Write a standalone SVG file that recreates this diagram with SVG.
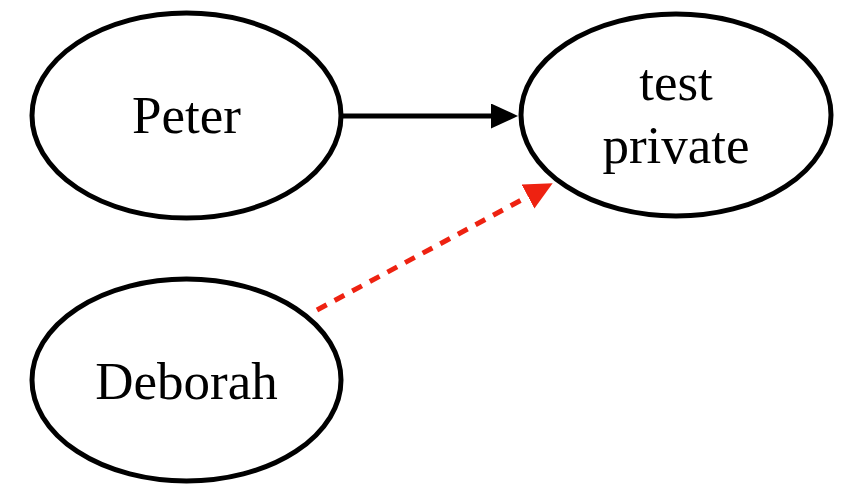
<svg xmlns="http://www.w3.org/2000/svg" width="842" height="484" viewBox="0 0 842 484">
  <style>
    .node { fill: #ffffff; stroke: #000000; stroke-width: 5; }
    .label { font-family: "Liberation Serif", "Times New Roman", serif; font-size: 53px; fill: #000000; text-anchor: middle; }
    .edge { fill: none; stroke-width: 5; }
    .solid { stroke: #000000; }
    .dashed { stroke: #ee2211; stroke-dasharray: 11 9; }
  </style>
  <defs>
    <marker id="arrow-black" markerUnits="userSpaceOnUse" markerWidth="28" markerHeight="26" refX="0" refY="12.5" orient="auto">
      <path d="M0,0 L27,12.5 L0,25 Z" fill="#000000"/>
    </marker>
    <marker id="arrow-red" markerUnits="userSpaceOnUse" markerWidth="29" markerHeight="28" refX="0" refY="13.5" orient="auto">
      <path d="M0,0 L28,13.5 L0,27 Z" fill="#ee2211"/>
    </marker>
  </defs>
  <rect width="842" height="484" fill="#ffffff"/>

  <g id="connectors">
    <path class="edge solid" d="M343,116 L491,116" marker-end="url(#arrow-black)"/>
    <path class="edge dashed" d="M317,310 L528,196.5" marker-end="url(#arrow-red)"/>
  </g>

  <g id="node-peter">
    <ellipse class="node" cx="186.5" cy="115.5" rx="154.5" ry="102.5"/>
    <text class="label" x="186.5" y="133">Peter</text>
  </g>

  <g id="node-test-private">
    <ellipse class="node" cx="676" cy="115" rx="155" ry="101"/>
    <text class="label" x="676" y="100">test</text>
    <text class="label" x="676" y="163">private</text>
  </g>

  <g id="node-deborah">
    <ellipse class="node" cx="186.5" cy="380" rx="154.5" ry="101"/>
    <text class="label" x="186.5" y="399">Deborah</text>
  </g>
</svg>
